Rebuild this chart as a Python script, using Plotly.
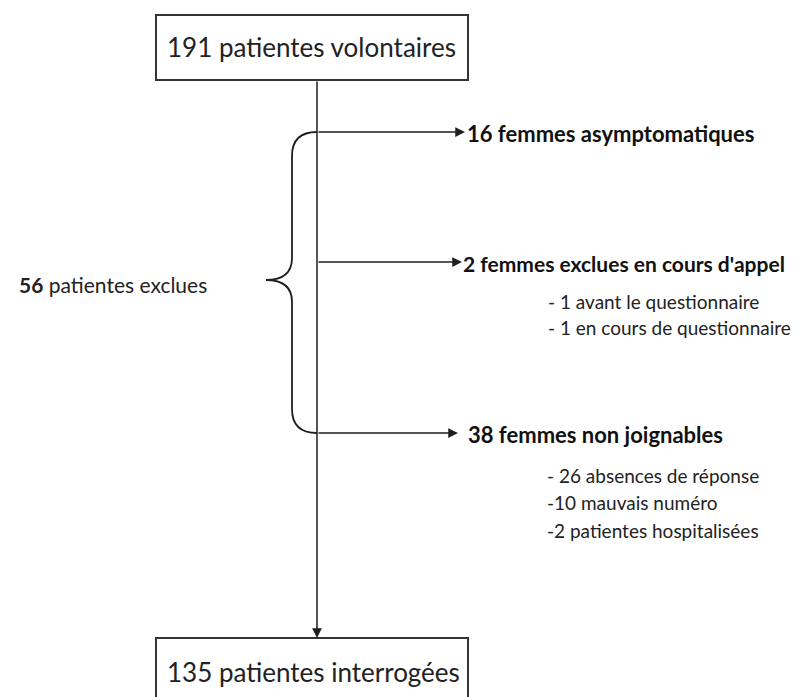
import plotly.graph_objects as go

# ---- content ----
start_label = "191 patientes volontaires"
end_label = "135 patientes interrogées"
excluded_total = "56"
excluded_text = " patientes exclues"
branch_labels = [
    "16 femmes asymptomatiques",
    "2 femmes exclues en cours d'appel",
    "38 femmes non joignables",
]
branch_details = [
    [],
    ["- 1 avant le questionnaire", "- 1 en cours de questionnaire"],
    ["- 26 absences de réponse", "-10 mauvais numéro", "-2 patientes hospitalisées"],
]

# ---- layout constants (pixel-like coordinates) ----
W, H = 800, 697
OFF = 8  # default page body margin
FONT = "Lato"
LINE = "#1e1e1e"
trunk_x = 317
box_x0, box_x1 = 156, 468
top_box = (15, 80)
bot_box = (638, 712)
branch_y = [132, 262, 433]
branch_tip = [465, 462, 458]
branch_text_x = [465, 461, 466]
branch_font = [22, 21, 22]
detail_x = [546, 546, 545]
detail_y0 = [0, 301, 475]
detail_dy = [0, 26, 27.5]

fig = go.Figure()
fig.add_trace(go.Scatter(x=[OFF, W], y=[OFF, H], mode="markers",
                         marker=dict(opacity=0), hoverinfo="skip", showlegend=False))

shapes = []
for (y0, y1) in (top_box, bot_box):
    shapes.append(dict(type="rect", xref="x", yref="y", x0=box_x0, x1=box_x1, y0=y0, y1=y1,
                       line=dict(color="#333333", width=2), fillcolor="white", layer="below"))
# brace
ya, yb = branch_y[0], branch_y[2]
ym = 280
bx, tipx = 292, 266
brace = (f"M {trunk_x},{ya} Q {bx},{ya} {bx},{ya+24} L {bx},{ym-22} "
         f"Q {bx},{ym} {tipx},{ym} Q {bx},{ym} {bx},{ym+22} "
         f"L {bx},{yb-24} Q {bx},{yb} {trunk_x},{yb}")
shapes.append(dict(type="path", xref="x", yref="y", path=brace,
                   line=dict(color=LINE, width=1.8)))

annotations = []
# main trunk arrow
annotations.append(dict(x=trunk_x, y=bot_box[0], ax=trunk_x, ay=top_box[1],
                        xref="x", yref="y", axref="x", ayref="y", text="",
                        showarrow=True, arrowhead=2, arrowsize=1.3, arrowwidth=1.5,
                        arrowcolor=LINE))
# branch arrows + labels
for i, lab in enumerate(branch_labels):
    annotations.append(dict(x=branch_tip[i], y=branch_y[i], ax=trunk_x, ay=branch_y[i],
                            xref="x", yref="y", axref="x", ayref="y", text="",
                            showarrow=True, arrowhead=2, arrowsize=1.3, arrowwidth=1.5,
                            arrowcolor=LINE))
    annotations.append(dict(x=branch_text_x[i], y=branch_y[i] + 1, xref="x", yref="y",
                            text=f"<b>{lab}</b>", showarrow=False, xanchor="left",
                            yanchor="middle",
                            font=dict(family=FONT, size=branch_font[i], color="#111111")))
    for j, d in enumerate(branch_details[i]):
        annotations.append(dict(x=detail_x[i], y=detail_y0[i] + j * detail_dy[i],
                                xref="x", yref="y", text=d, showarrow=False,
                                xanchor="left", yanchor="middle",
                                font=dict(family=FONT, size=19, color="#222222")))
# box labels
annotations.append(dict(x=165, y=47, xref="x", yref="y", text=start_label, showarrow=False,
                        xanchor="left", yanchor="middle",
                        font=dict(family=FONT, size=26, color="#222222")))
annotations.append(dict(x=165, y=672, xref="x", yref="y", text=end_label, showarrow=False,
                        xanchor="left", yanchor="middle",
                        font=dict(family=FONT, size=26, color="#222222")))
# excluded label
annotations.append(dict(x=209, y=284, xref="x", yref="y",
                        text=f"<b>{excluded_total}</b>{excluded_text}", showarrow=False,
                        xanchor="right", yanchor="middle",
                        font=dict(family=FONT, size=21, color="#222222")))

fig.update_layout(
    width=W - OFF, height=H - OFF, margin=dict(l=0, r=0, t=0, b=0),
    paper_bgcolor="white", plot_bgcolor="white",
    xaxis=dict(range=[OFF, W], visible=False, fixedrange=True),
    yaxis=dict(range=[H, OFF], visible=False, fixedrange=True),
    shapes=shapes, annotations=annotations, showlegend=False,
)
fig.write_html("out.html")
